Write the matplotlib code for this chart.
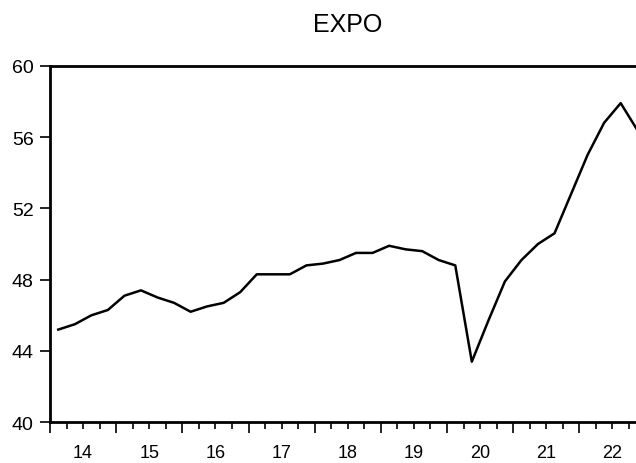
import numpy as np
import matplotlib.pyplot as plt
from matplotlib.ticker import FixedLocator, FuncFormatter

plt.rcParams['font.family'] = ['Liberation Sans', 'DejaVu Sans']

# quarterly EXPO series, 2014Q1 - 2022Q4
years = [2014, 2015, 2016, 2017, 2018, 2019, 2020, 2021, 2022]
expo = [45.2, 45.5, 46.0, 46.3,
        47.1, 47.4, 47.0, 46.7,
        46.2, 46.5, 46.7, 47.3,
        48.3, 48.3, 48.3, 48.8,
        48.9, 49.1, 49.5, 49.5,
        49.9, 49.7, 49.6, 49.1,
        48.8, 43.4, 45.7, 47.9,
        49.1, 50.0, 50.6, 52.8,
        55.0, 56.8, 57.9, 56.4]
y_ticks = [40, 44, 48, 52, 56, 60]

# place each quarter in the middle of its period
t = np.array([years[0] + (i + 0.5) / 4 for i in range(len(expo))])

fig = plt.figure(figsize=(6.36, 4.64), dpi=100)
ax = fig.add_axes([50 / 636, 40.7 / 464, 595.5 / 636, 356.6 / 464])

ax.plot(t, expo, color='black', linewidth=1.8)

ax.set_xlim(years[0], years[-1] + 1)
ax.set_ylim(40, 60)

for side in ['left', 'top', 'bottom', 'right']:
    ax.spines[side].set_linewidth(2.0)

# long ticks at year boundaries, short ticks at quarters, labels mid-year
ax.xaxis.set_major_locator(FixedLocator(list(range(years[0], years[-1] + 2))))
ax.xaxis.set_major_formatter(FuncFormatter(lambda v, p: ''))
quarters = [y + q / 4 for y in years for q in (1, 2, 3)]
ax.xaxis.set_minor_locator(FixedLocator(quarters))
ax.xaxis.set_minor_formatter(
    FuncFormatter(lambda v, p: '%02d' % (int(v) % 100) if abs(v % 1 - 0.5) < 1e-6 else ''))
ax.tick_params(axis='x', which='major', direction='out', length=8, width=1.2)
ax.tick_params(axis='x', which='minor', direction='out', length=5, width=1.2,
               labelsize=13, pad=10.5)

ax.set_yticks(y_ticks)
ax.tick_params(axis='y', direction='out', length=7.2, width=1.2, labelsize=14, pad=4.5)

ax.set_title('EXPO', fontsize=18, pad=25)

fig.savefig('out.png', dpi=100)
